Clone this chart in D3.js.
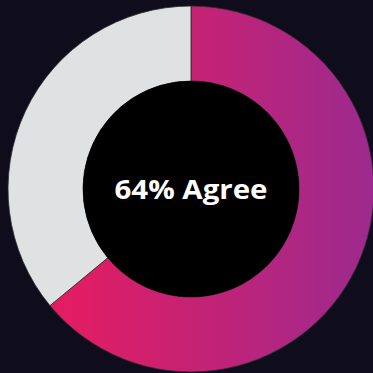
<!DOCTYPE html>
<html><head><meta charset="utf-8">
<script src="https://cdn.jsdelivr.net/npm/d3@7"></script>
<style>html,body{margin:0;padding:0;background:#0f0c1c;}svg{display:block;}</style>
</head><body>
<svg id="chart" width="373" height="373"></svg>
<script>
const labels = ["Agree", "Other"];
const values = [64, 36];
const colors = ["url(#grad)", "#e0e1e3"];

const W = 373, H = 373, cx = 191, cy = 189, outerR = 183, innerR = 108;
const svg = d3.select("#chart");
svg.append("rect").attr("width", W).attr("height", H).attr("fill", "#0f0c1c");
const defs = svg.append("defs");
const g = defs.append("linearGradient").attr("id", "grad")
  .attr("gradientUnits", "userSpaceOnUse")
  .attr("x1", -outerR).attr("y1", 0).attr("x2", outerR).attr("y2", 0);
g.append("stop").attr("offset", "0%").attr("stop-color", "#f01a5a");
g.append("stop").attr("offset", "100%").attr("stop-color", "#9c2a8e");

const pie = d3.pie().sort(null).value(d => d);
const arc = d3.arc().innerRadius(innerR).outerRadius(outerR);
const root = svg.append("g").attr("transform", `translate(${cx},${cy})`);
root.selectAll("path").data(pie(values)).join("path")
  .attr("d", arc)
  .attr("fill", (d, i) => colors[i])
  .attr("stroke", "#2a2a2a").attr("stroke-width", 0.8);
root.append("circle").attr("r", innerR).attr("fill", "#000");
const t = root.append("text").attr("x", 0).attr("y", 0).attr("dy", "0.36em")
  .attr("text-anchor", "middle")
  .attr("font-family", "'Open Sans', Lato, sans-serif")
  .attr("font-weight", 700).attr("font-size", 27)
  .attr("fill", "#fff")
  .text(values[0] + "% " + labels[0]);
const w = t.node().getComputedTextLength();
t.attr("textLength", 153).attr("lengthAdjust", "spacingAndGlyphs");
</script>
</body></html>
